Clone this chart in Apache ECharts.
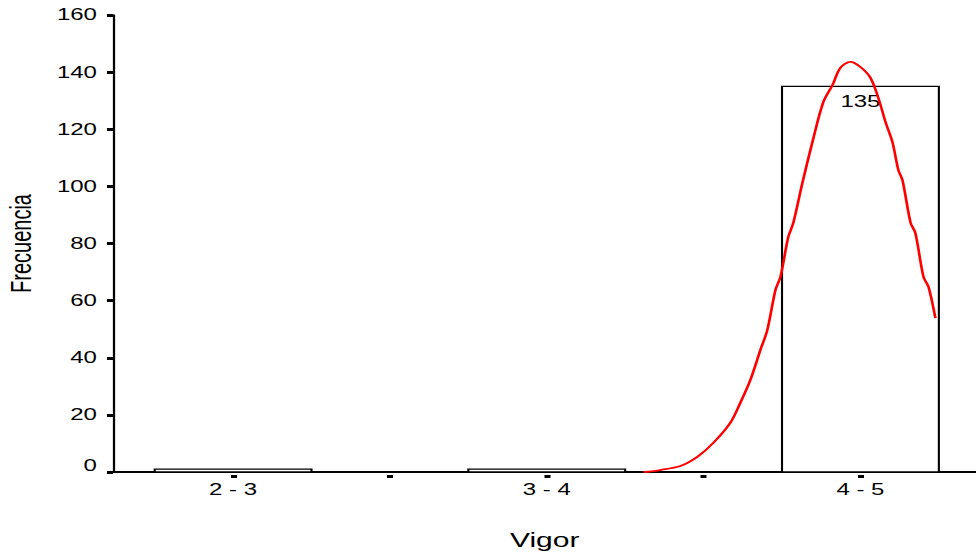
<!DOCTYPE html>
<html>
<head>
<meta charset="utf-8">
<script src="https://cdn.jsdelivr.net/npm/echarts@6/dist/echarts.min.js"></script>
<style>
  html, body { margin: 0; padding: 0; background: #fff; overflow: hidden; }
  /* the reference is stretched sideways, so draw narrow and widen it */
  #main { width: 651px; height: 559px; transform: scaleX(1.5); transform-origin: 0 0; }
</style>
</head>
<body>
<div id="main"></div>
<script>
// bins of the histogram
let categories = ['2 - 3', '3 - 4', '4 - 5']
let binCenters = [2.5, 3.5, 4.5]
let counts = [1, 1, 135]
let tickValues = [2.5, 3, 3.5, 4, 4.5]

// fitted normal curve
let curveX = [3.808, 3.862, 3.926, 3.980, 4.031, 4.085, 4.117, 4.149, 4.181, 4.203, 4.229, 4.245,
    4.270, 4.286, 4.315, 4.350, 4.382, 4.411, 4.436, 4.468, 4.500, 4.532, 4.557, 4.580,
    4.602, 4.621, 4.634, 4.660, 4.675, 4.701, 4.717, 4.739]
let curveY = [0, 0.7, 2.1, 5.3, 10.2, 17.2, 24.2, 32.2, 42.7, 49.7, 63.7, 68.3,
    82.3, 87.2, 101.2, 116.9, 129.6, 135.5, 141.5, 143.6, 141.8, 138.0, 131.0, 122.5,
    115.5, 105.7, 102.2, 87.2, 83.7, 68.3, 64.8, 53.9]

let font = "'Liberation Sans', Arial, sans-serif"
let xMin = 2.117
let xMax = 4.87
let binHalf = 0.25

let myChart = echarts.init(document.getElementById('main'), null, {renderer: 'svg'})

myChart.setOption({
    animation: false,
    grid: {left: 75.3, right: 0, top: 15, bottom: 87, containLabel: false, outerBoundsMode: 'none'},
    xAxis: [
        {
            type: 'value',
            min: xMin,
            max: xMax,
            name: 'Vigor',
            nameLocation: 'middle',
            nameGap: 58,
            nameTextStyle: {fontFamily: font, fontSize: 20, color: '#000'},
            splitLine: {show: false},
            axisLine: {lineStyle: {color: '#000', width: 2}},
            axisTick: {show: false},
            axisLabel: {
                customValues: binCenters,
                margin: 10,
                fontFamily: font,
                fontSize: 16,
                color: '#000',
                formatter: v => categories[binCenters.indexOf(v)] || ''
            }
        },
        {
            type: 'value',
            position: 'bottom',
            offset: 3,
            min: xMin,
            max: xMax,
            splitLine: {show: false},
            axisLine: {show: false},
            axisLabel: {show: false},
            axisTick: {
                customValues: tickValues,
                length: 3,
                lineStyle: {color: '#000', width: 4}
            }
        }
    ],
    yAxis: {
        type: 'value',
        min: 0,
        max: 160,
        interval: 20,
        name: 'Frecuencia',
        nameLocation: 'middle',
        nameGap: 52,
        nameTextStyle: {fontFamily: font, fontSize: 20, color: '#000'},
        splitLine: {show: false},
        axisLine: {show: true, lineStyle: {color: '#000', width: 1.5}},
        axisTick: {length: 4, lineStyle: {color: '#000', width: 3}},
        axisLabel: {
            margin: 10.7,
            fontFamily: font,
            fontSize: 16,
            color: '#000',
            formatter: v => v === 0 ? '{z|0}' : String(v),
            rich: {z: {fontFamily: font, fontSize: 16, color: '#000', padding: [0, 0, 13, 0]}}
        }
    },
    series: [
        {
            type: 'custom',
            xAxisIndex: 0,
            data: binCenters.map((c, i) => [c, counts[i]]),
            renderItem: (params, api) => {
                let x = api.value(0)
                let y = api.value(1)
                let p0 = api.coord([x - binHalf, y])
                let p1 = api.coord([x + binHalf, 0])
                let item = {
                    type: 'rect',
                    shape: {x: p0[0], y: p0[1], width: p1[0] - p0[0], height: p1[1] - p0[1]},
                    style: {fill: '#fff', stroke: '#000', lineWidth: 1.4}
                }
                if (y > 1) {
                    item.textContent = {
                        style: {text: String(y), fontFamily: font, fontSize: 16, fill: '#000'}
                    }
                    item.textConfig = {position: 'insideTop', distance: 8}
                }
                return item
            }
        },
        {
            type: 'line',
            xAxisIndex: 0,
            data: curveX.map((x, i) => [x, curveY[i]]),
            smooth: 0.3,
            showSymbol: false,
            symbol: 'none',
            lineStyle: {color: '#ff0000', width: 1.8},
            z: 5
        }
    ]
})
</script>
</body>
</html>
